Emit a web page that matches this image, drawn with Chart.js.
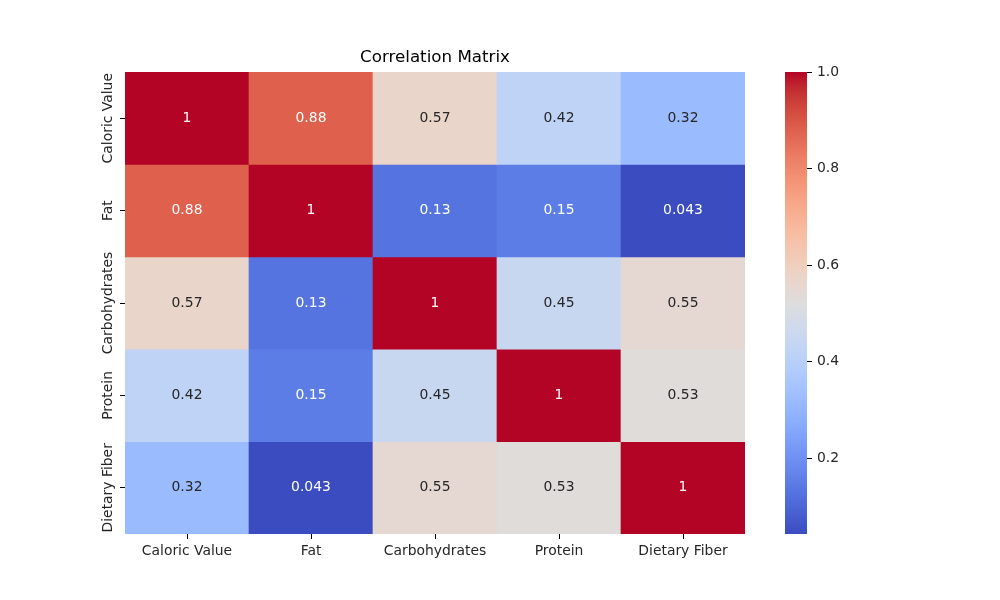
<!DOCTYPE html>
<html>
<head>
<meta charset="utf-8">
<script src="https://cdn.jsdelivr.net/npm/chart.js@4/dist/chart.umd.min.js"></script>
<style>
  body { margin: 0; background: #fff; }
  #wrap { position: relative; width: 1000px; height: 600px; }
  #heatmap { position: absolute; left: 0; top: 0; }
  #cbar { position: absolute; left: 745px; top: 0; }
</style>
</head>
<body>
<div id="wrap">
  <canvas id="heatmap" width="1000" height="600"></canvas>
  <canvas id="cbar" width="255" height="600"></canvas>
</div>
<script>
// ---- data ----
const featureLabels = ['Caloric Value', 'Fat', 'Carbohydrates', 'Protein', 'Dietary Fiber'];
const caloricValueRow = [1, 0.88, 0.57, 0.42, 0.32];
const fatRow = [0.88, 1, 0.13, 0.15, 0.043];
const carbohydratesRow = [0.57, 0.13, 1, 0.45, 0.55];
const proteinRow = [0.42, 0.15, 0.45, 1, 0.53];
const dietaryFiberRow = [0.32, 0.043, 0.55, 0.53, 1];
const matrixRows = [caloricValueRow, fatRow, carbohydratesRow, proteinRow, dietaryFiberRow];
const colorbarTicks = [0.2, 0.4, 0.6, 0.8, 1.0];
const vmin = 0.043, vmax = 1.0;

// matplotlib coolwarm lookup (33 evenly spaced stops)
const COOLWARM = [
  [59,76,192],[68,90,204],[77,104,215],[87,117,225],[98,130,234],[108,142,241],[119,154,247],[130,165,251],
  [141,176,254],[152,185,255],[163,194,255],[174,201,253],[184,208,249],[194,213,244],[204,217,238],[213,219,230],
  [221,221,221],[229,216,209],[236,211,197],[241,204,185],[245,196,173],[247,187,160],[247,177,148],[247,166,135],
  [244,154,123],[241,141,111],[236,127,99],[229,112,88],[222,96,77],[213,80,66],[203,62,56],[192,40,47],[180,4,38]
];

function coolwarmRGB(t) {
  t = Math.min(1, Math.max(0, t));
  const pos = t * (COOLWARM.length - 1);
  const i = Math.min(Math.floor(pos), COOLWARM.length - 2);
  const f = pos - i;
  return COOLWARM[i].map((c, k) => Math.round(c + (COOLWARM[i + 1][k] - c) * f));
}
const norm = v => (v - vmin) / (vmax - vmin);
const rgbStr = c => `rgb(${c[0]},${c[1]},${c[2]})`;

// seaborn picks white text on dark cells
function textColorFor(c) {
  const lin = c.map(x => { x /= 255; return x <= 0.03928 ? x / 12.92 : Math.pow((x + 0.055) / 1.055, 2.4); });
  const lum = 0.2126 * lin[0] + 0.7152 * lin[1] + 0.0722 * lin[2];
  return lum > 0.408 ? '#262626' : '#ffffff';
}
const fmt = v => String(Number(v.toPrecision(2)));

const FONT = "'DejaVu Sans', sans-serif";
const TICK_PX = 13.9;

// ---- plugins ----
const annotatePlugin = {
  id: 'annotate',
  afterDatasetsDraw(chart) {
    const ctx = chart.ctx;
    ctx.save();
    ctx.font = `${TICK_PX}px ${FONT}`;
    ctx.textAlign = 'center';
    ctx.textBaseline = 'middle';
    chart.data.datasets.forEach((ds, di) => {
      chart.getDatasetMeta(di).data.forEach((el, i) => {
        const p = el.getCenterPoint();
        const v = ds.values[i];
        ctx.fillStyle = textColorFor(coolwarmRGB(norm(v)));
        ctx.fillText(fmt(v), p.x, p.y);
      });
    });
    ctx.restore();
  }
};

const rowLabelPlugin = {
  id: 'rowLabels',
  afterDraw(chart) {
    const ctx = chart.ctx;
    const y = chart.scales.y;
    ctx.save();
    ctx.font = `${TICK_PX}px ${FONT}`;
    ctx.fillStyle = '#262626';
    ctx.textAlign = 'center';
    ctx.textBaseline = 'bottom';
    featureLabels.forEach((lab, i) => {
      ctx.save();
      ctx.translate(y.left + y.width - 10, y.getPixelForValue(i + 0.5));
      ctx.rotate(-Math.PI / 2);
      ctx.fillText(lab, 0, 0);
      ctx.restore();
    });
    ctx.restore();
  }
};

const gradientPlugin = {
  id: 'cbarGradient',
  beforeDatasetsDraw(chart) {
    const ctx = chart.ctx;
    const a = chart.chartArea;
    const ys = chart.scales.y;
    const g = ctx.createLinearGradient(0, ys.getPixelForValue(vmin), 0, ys.getPixelForValue(vmax));
    COOLWARM.forEach((c, i) => g.addColorStop(i / (COOLWARM.length - 1), rgbStr(c)));
    ctx.save();
    ctx.fillStyle = g;
    ctx.fillRect(a.left, a.top, a.right - a.left, a.bottom - a.top);
    ctx.restore();
  }
};

// ---- heatmap ----
const heatDatasets = matrixRows.map((row, r) => ({
  data: row.map(() => [r, r + 1]),
  values: row,
  backgroundColor: row.map(v => rgbStr(coolwarmRGB(norm(v)))),
  borderWidth: 0,
  barPercentage: 1,
  categoryPercentage: 1,
  grouped: false
}));

new Chart(document.getElementById('heatmap'), {
  type: 'bar',
  data: { labels: featureLabels, datasets: heatDatasets },
  options: {
    responsive: false,
    animation: false,
    layout: { padding: { left: 0, right: 255, top: 0, bottom: 0 } },
    plugins: {
      legend: { display: false },
      tooltip: { enabled: false },
      title: {
        display: true,
        text: 'Correlation Matrix',
        fullSize: false,
        color: '#000',
        font: { family: FONT, size: 16.7, weight: 'normal' },
        padding: { top: 48, bottom: 4 }
      }
    },
    scales: {
      x: {
        type: 'category',
        offset: true,
        border: { display: false },
        grid: { offset: false, drawOnChartArea: false, drawTicks: true, tickLength: 5, color: '#000' },
        ticks: { color: '#262626', padding: 4, maxRotation: 0, font: { family: FONT, size: TICK_PX } },
        afterFit(s) { s.height = 66; }
      },
      y: {
        type: 'linear',
        min: 0,
        max: 5,
        reverse: true,
        border: { display: false },
        grid: { drawOnChartArea: false, drawTicks: true, tickLength: 5, color: '#000' },
        ticks: { display: false },
        afterBuildTicks(s) { s.ticks = featureLabels.map((_, i) => ({ value: i + 0.5 })); },
        afterFit(s) { s.width = 125; }
      }
    }
  },
  plugins: [annotatePlugin, rowLabelPlugin]
});

// ---- colorbar ----
new Chart(document.getElementById('cbar'), {
  type: 'bar',
  data: { labels: [''], datasets: [] },
  options: {
    responsive: false,
    animation: false,
    layout: { padding: { left: 40, right: 0, top: 72, bottom: 66 } },
    plugins: { legend: { display: false }, tooltip: { enabled: false } },
    scales: {
      x: { display: false },
      y: {
        type: 'linear',
        position: 'right',
        min: vmin,
        max: vmax,
        border: { display: false },
        grid: { drawOnChartArea: false, drawTicks: true, tickLength: 5, color: '#000' },
        ticks: {
          color: '#262626',
          padding: 5,
          font: { family: FONT, size: TICK_PX },
          callback: v => v.toFixed(1)
        },
        afterBuildTicks(s) { s.ticks = colorbarTicks.map(v => ({ value: v })); },
        afterFit(s) { s.width = 193; }
      }
    }
  },
  plugins: [gradientPlugin]
});
</script>
</body>
</html>
